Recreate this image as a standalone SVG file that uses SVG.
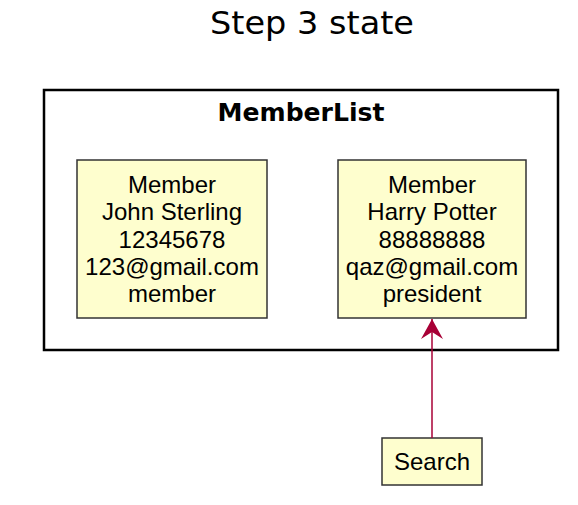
<svg xmlns="http://www.w3.org/2000/svg" width="578" height="505" viewBox="0 0 578 505">
<defs>
<style>
.node{fill:#FEFECE;stroke:#333333;stroke-width:1.5}
.t{font-family:"Liberation Sans",Arial,sans-serif;font-size:24px;fill:#000;text-anchor:middle}
.edge{stroke:#A80036;stroke-width:1.5;fill:none}
</style>
<marker id="arr" viewBox="0 0 20 22" refX="20" refY="11" markerWidth="20" markerHeight="22" markerUnits="userSpaceOnUse" orient="auto">
<path d="M0,0 L20,11 L0,22 L7,11 Z" fill="#A80036"/>
</marker>
</defs>
<rect width="578" height="505" fill="#FFFFFF"/>
<text x="312" y="34" font-family="DejaVu Sans,sans-serif" font-size="32" text-anchor="middle" textLength="204" lengthAdjust="spacingAndGlyphs">Step 3 state</text>
<g id="MemberList">
<rect x="44" y="90" width="514" height="260" fill="none" stroke="#000" stroke-width="2.5"/>
<text x="301" y="121" font-family="DejaVu Sans,sans-serif" font-size="24" font-weight="bold" text-anchor="middle" textLength="167" lengthAdjust="spacingAndGlyphs">MemberList</text>
</g>
<g id="member1">
<rect class="node" x="77" y="160" width="190" height="158"/>
<text class="t" x="172" y="193">Member</text>
<text class="t" x="172" y="220">John Sterling</text>
<text class="t" x="172" y="248">12345678</text>
<text class="t" x="172" y="275">123@gmail.com</text>
<text class="t" x="172" y="302">member</text>
</g>
<g id="member2">
<rect class="node" x="338" y="160" width="188" height="158"/>
<text class="t" x="432" y="193">Member</text>
<text class="t" x="432" y="220">Harry Potter</text>
<text class="t" x="432" y="248">88888888</text>
<text class="t" x="432" y="275">qaz@gmail.com</text>
<text class="t" x="432" y="302">president</text>
</g>
<g id="search">
<rect class="node" x="382" y="438" width="100" height="47"/>
<text class="t" x="432" y="470">Search</text>
</g>
<g id="connectors">
<line class="edge" x1="432" y1="438" x2="432" y2="319" marker-end="url(#arr)"/>
</g>
</svg>
